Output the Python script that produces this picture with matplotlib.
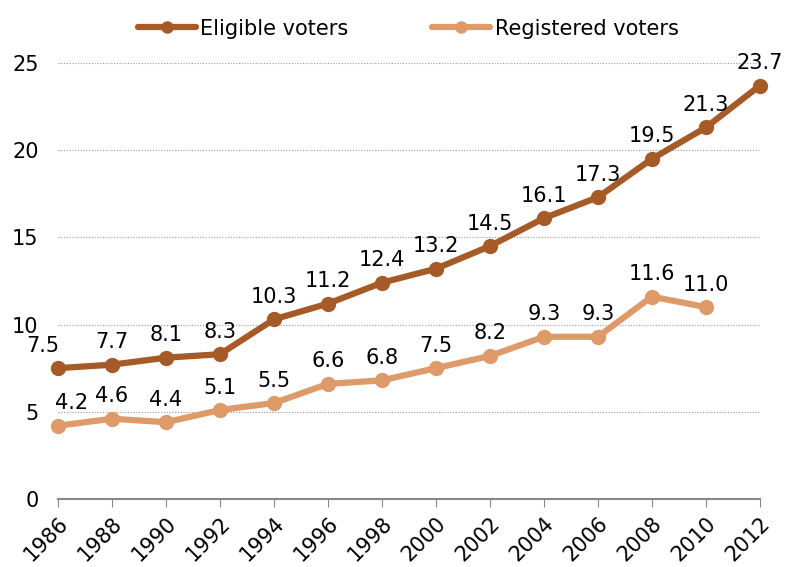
import numpy as np
import matplotlib.pyplot as plt

years = [1986, 1988, 1990, 1992, 1994, 1996, 1998, 2000, 2002, 2004, 2006, 2008, 2010, 2012]
eligible = [7.5, 7.7, 8.1, 8.3, 10.3, 11.2, 12.4, 13.2, 14.5, 16.1, 17.3, 19.5, 21.3, 23.7]
registered = [4.2, 4.6, 4.4, 5.1, 5.5, 6.6, 6.8, 7.5, 8.2, 9.3, 9.3, 11.6, 11.0]

c_elig = '#A65A28'
c_reg = '#DF9A6A'

fig = plt.figure(figsize=(7.85, 5.67), dpi=100)
ax = fig.add_axes([0.074, 0.12, 0.894, 0.769])

x = np.arange(len(years))
ax.plot(x, eligible, color=c_elig, lw=4.5, marker='o', ms=10, label='Eligible voters',
        solid_capstyle='round', clip_on=False, zorder=3)
ax.plot(x[:len(registered)], registered, color=c_reg, lw=4.5, marker='o', ms=10,
        label='Registered voters', solid_capstyle='round', clip_on=False, zorder=3)

for i, v in enumerate(eligible):
    dx = -11 if i == 0 else 0
    ax.annotate(f'{v:.1f}', (x[i], v), xytext=(dx, 9), textcoords='offset points',
                ha='center', va='bottom', fontsize=15)
for i, v in enumerate(registered):
    dx = 10 if i == 0 else 0
    ax.annotate(f'{v:.1f}', (x[i], v), xytext=(dx, 9), textcoords='offset points',
                ha='center', va='bottom', fontsize=15)

ax.set_xlim(0, len(years) - 1)
ax.set_ylim(0, 25)
ax.set_yticks([0, 5, 10, 15, 20, 25])
ax.set_xticks(x)
ax.set_xticklabels([str(y) for y in years], rotation=45, ha='right', rotation_mode='anchor')
ax.tick_params(axis='y', length=0, labelsize=15, pad=14)
ax.tick_params(axis='x', length=6, color='#888888', labelsize=15, pad=4)
for y in [5, 10, 15, 20, 25]:
    ax.axhline(y, color='#999999', lw=0.8, ls=(0, (1, 1.5)), zorder=1)
for s in ['top', 'right', 'left']:
    ax.spines[s].set_visible(False)
ax.spines['bottom'].set_color('#888888')
ax.spines['bottom'].set_linewidth(1.5)

fig.legend(loc='upper center', bbox_to_anchor=(0.52, 1.0), ncol=2, frameon=False,
           fontsize=15, handlelength=2.8, handletextpad=0.2, columnspacing=4.0, markerscale=0.8)

fig.savefig('out.png', dpi=100)
